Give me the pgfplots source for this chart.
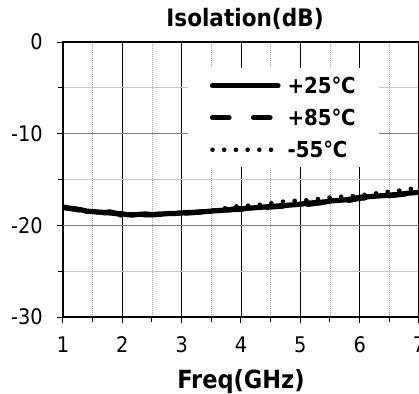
\documentclass[border=0pt]{standalone}
\usepackage{fontspec}
\setmainfont{DejaVu Sans Condensed}
\usepackage{pgfplots}
\pgfplotsset{compat=1.18}
\pgfplotstableread{
x y
1.0 -18.05
1.1 -18.15
1.2 -18.20
1.3 -18.30
1.4 -18.45
1.5 -18.50
1.6 -18.55
1.7 -18.60
1.8 -18.55
1.9 -18.70
2.0 -18.75
2.1 -18.85
2.2 -18.85
2.3 -18.80
2.4 -18.75
2.5 -18.85
2.6 -18.80
2.7 -18.75
2.8 -18.70
2.9 -18.70
3.0 -18.65
3.1 -18.60
3.2 -18.60
3.3 -18.55
3.4 -18.50
3.5 -18.45
3.6 -18.40
3.7 -18.35
3.8 -18.30
3.9 -18.20
4.0 -18.20
4.1 -18.15
4.2 -18.10
4.3 -18.05
4.4 -18.00
4.5 -17.95
4.6 -17.90
4.7 -17.85
4.8 -17.80
4.9 -17.75
5.0 -17.70
5.1 -17.60
5.2 -17.55
5.3 -17.50
5.4 -17.45
5.5 -17.35
5.6 -17.30
5.7 -17.25
5.8 -17.20
5.9 -17.05
6.0 -16.95
6.1 -16.90
6.2 -16.85
6.3 -16.80
6.4 -16.75
6.5 -16.70
6.6 -16.65
6.7 -16.60
6.8 -16.50
6.9 -16.45
7.0 -16.40
}\tA
\pgfplotstableread{
x y
1.0 -18.00
1.2 -18.25
1.4 -18.45
1.6 -18.60
1.8 -18.65
2.0 -18.80
2.2 -18.95
2.4 -18.85
2.6 -18.80
2.8 -18.75
3.0 -18.70
3.2 -18.60
3.4 -18.50
3.6 -18.45
3.8 -18.30
4.0 -18.25
4.2 -18.15
4.4 -18.05
4.6 -17.95
4.8 -17.85
5.0 -17.85
5.2 -17.65
5.4 -17.50
5.6 -17.40
5.8 -17.30
6.0 -17.05
6.2 -16.95
6.4 -16.85
6.6 -16.70
6.8 -16.55
7.0 -16.45
}\tB
\pgfplotstableread{
x y
1.0 -18.00
1.2 -18.20
1.4 -18.50
1.6 -18.60
1.8 -18.50
2.0 -19.00
2.2 -18.90
2.4 -18.80
2.6 -18.85
2.8 -18.70
3.0 -18.60
3.2 -18.55
3.4 -18.45
3.6 -18.30
3.8 -18.05
4.0 -17.85
4.2 -17.85
4.4 -17.70
4.6 -17.50
4.8 -17.35
5.0 -17.30
5.2 -17.22
5.4 -17.05
5.6 -16.87
5.8 -16.88
6.0 -16.72
6.2 -16.60
6.4 -16.38
6.6 -16.28
6.8 -16.07
7.0 -15.90
}\tC
\begin{document}
\begin{tikzpicture}
\begin{axis}[
  scale only axis, width=356bp, height=275bp,
  xmin=1, xmax=7, ymin=-30, ymax=0,
  xtick={1,2,3,4,5,6,7}, minor xtick={1.5,2.5,3.5,4.5,5.5,6.5},
  ytick={-30,-10,0}, minor ytick={-25,-15,-5},
  extra y ticks={-20},
  extra y tick style={grid=major, major grid style={black, line width=1bp}},
  tick pos=left, tick align=outside,
  major tick length=6bp, minor tick length=5bp,
  tick style={black, line width=1bp},
  xmajorgrids, xminorgrids, ymajorgrids, yminorgrids,
  major x grid style={black, line width=0.8bp},
  minor x grid style={gray!70, line width=0.9bp, dash pattern=on 1bp off 1bp},
  major y grid style={gray, line width=1.4bp},
  minor y grid style={gray!45, line width=1.2bp},
  axis line style={black, line width=1.2bp},
  /pgf/number format/assume math mode=true,
  ticklabel style={font=\fontsize{21.5bp}{25bp}\selectfont},
  xticklabel style={anchor=base, yshift=-29bp},
  yticklabel style={anchor=east, inner sep=0pt, xshift=-14bp},
  title={Isolation(dB)},
  title style={font=\fontsize{24bp}{28bp}\bfseries\selectfont, at={(0.5,1)}, anchor=base, yshift=9.7bp, xshift=4bp, inner sep=0pt},
  xlabel={Freq(GHz)},
  xlabel style={font=\fontsize{25bp}{30bp}\bfseries\selectfont, at={(0.5,0)}, anchor=base, yshift=-71bp, inner sep=0pt},
  legend image code/.code={\draw[#1] (0bp,0bp) -- (65.5bp,0bp);},
  legend style={at={(0.351,0.905)}, anchor=north west, draw=none, fill=white,
    inner xsep=21.75bp, inner ysep=6.5bp, row sep=10bp, column sep=5bp,
    nodes={inner sep=2bp},
    font=\fontsize{22bp}{26bp}\bfseries\selectfont, cells={anchor=west}},
]
\addplot[black, line width=5.2bp, line join=round, line cap=round] table {\tA};
\addlegendentry{+25℃}
\addplot[black, line width=5.2bp, dash pattern=on 16.5bp off 24.5bp, line cap=round] table {\tB};
\addlegendentry{+85℃}
\addplot[black, line width=4.6bp, dash pattern=on 0bp off 11.7bp, line cap=round] table {\tC};
\addlegendentry{-55℃}
\end{axis}
\pgfresetboundingbox
\useasboundingbox (-63bp,-77bp) rectangle (356bp,317bp);
\end{tikzpicture}
\end{document}
